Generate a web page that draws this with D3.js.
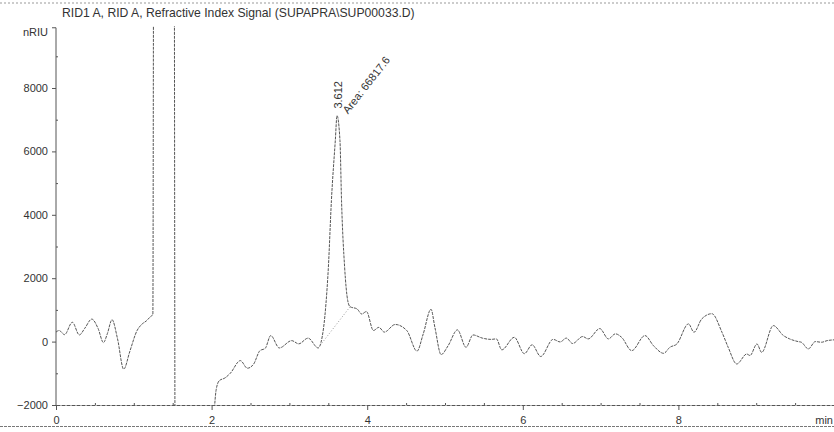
<!DOCTYPE html>
<html>
<head>
<meta charset="utf-8">
<script src="https://cdn.jsdelivr.net/npm/d3@7/dist/d3.min.js"></script>
<style>
  html, body { margin: 0; padding: 0; background: #fff; }
  svg { display: block; font-family: "Liberation Sans", Arial, sans-serif; }
  .axis text { fill: #333; font-size: 11px; font-family: "Liberation Sans", Arial, sans-serif; }
  .axis path, .axis line { stroke: #555; }
</style>
</head>
<body>
<svg id="chart" width="834" height="432"></svg>
<script>
// Refractive index detector trace (RID1 A), retention time in minutes vs nRIU
const title = "RID1 A, RID A, Refractive Index Signal (SUPAPRA\\SUP00033.D)";
const yUnit = "nRIU";
const xUnit = "min";

const xTicks = [0, 2, 4, 6, 8];
const xMinorTicks = [0.5, 1, 1.5, 2.5, 3, 3.5, 4.5, 5, 5.5, 6.5, 7, 7.5, 8.5, 9, 9.5];
const yTicks = [-2000, 0, 2000, 4000, 6000, 8000];
const yMinorTicks = [-1000, 1000, 3000, 5000, 7000, 9000];

// Signal samples; the solvent front runs off scale
// above (about 1.25-1.52 min) and below (about 1.53-2.03 min).
const times = [
  0.00, 0.04, 0.11, 0.21, 0.30, 0.37, 0.46, 0.54, 0.61, 0.66, 0.72, 0.79, 0.87, 0.95,
  1.04, 1.10, 1.16, 1.22, 1.245, 1.255, 1.52, 1.53, 2.02, 2.04, 2.06, 2.10, 2.17, 2.24,
  2.37, 2.46, 2.54, 2.62, 2.69, 2.76, 2.87, 3.03, 3.12, 3.24, 3.37, 3.44, 3.47, 3.50,
  3.54, 3.59, 3.612, 3.65, 3.67, 3.71, 3.75, 3.78, 3.87, 3.93, 3.99, 4.08, 4.15, 4.22,
  4.36, 4.51, 4.64, 4.72, 4.82, 4.87, 4.95, 5.04, 5.16, 5.27, 5.36, 5.48, 5.59, 5.66,
  5.73, 5.89, 6.02, 6.12, 6.23, 6.39, 6.48, 6.56, 6.64, 6.77, 6.84, 6.99, 7.10, 7.19,
  7.27, 7.40, 7.57, 7.68, 7.81, 7.89, 7.98, 8.13, 8.20, 8.30, 8.43, 8.56, 8.64, 8.75,
  8.88, 8.92, 9.01, 9.07, 9.22, 9.35, 9.43, 9.54, 9.58, 9.67, 9.76, 9.84, 9.91, 10.00
];
const signal = [
  300, 350, 220, 610, 210, 420, 710, 420, -30, 250, 690, 100, -870, -300,
  340, 540, 650, 800, 850, 12000, 12000, -3000, -3000, -2000, -1500, -1230, -1150, -1000,
  -600, -840, -710, -290, -210, 190, -200, 30, -70, 110, -200, 450, 1200, 2300,
  4450, 6340, 7130, 6340, 4450, 2340, 1290, 1100, 1030, 870, 950, 350, 450, 300,
  540, 345, -300, 240, 1020, 450, -410, -130, 370, -180, 210, 110, 70, 85,
  -260, 135, -380, -100, -470, 70, -10, 110, -60, 160, 85, 410, 85, 245,
  135, -285, 190, -130, -370, -180, -75, 560, 295, 715, 880, 295, -180, -705,
  -390, -440, -75, -340, 505, 190, 85, 0, -20, -230, 0, -20, 30, 55
];

// Integrated peak
const peakTime = 3.612;
const peakArea = 66817.6;
const baselineStart = [3.37, -200];
const baselineEnd = [3.78, 1100];

const svg = d3.select("#chart");
const W = 834, H = 432;
const left = 56, right = 834, bottom = 405;

const x = d3.scaleLinear().domain([0, 10]).range([left, right]);
const y = d3.scaleLinear().domain([-2000, 8000]).range([bottom, 88]);
const yTop = 9900;

// page frame lines
svg.append("line").attr("x1", 0).attr("x2", W).attr("y1", 3).attr("y2", 3)
  .attr("stroke", "#999").attr("stroke-dasharray", "2,2");
svg.append("line").attr("x1", 0).attr("x2", W).attr("y1", 426.5).attr("y2", 426.5)
  .attr("stroke", "#777").attr("stroke-dasharray", "3,1");

// title
svg.append("text").attr("x", 62).attr("y", 16.5)
  .attr("font-size", "12.2px").attr("fill", "#333").text(title);

// y axis
const yAxisG = svg.append("g").attr("class", "axis")
  .attr("transform", `translate(${left},0)`)
  .call(d3.axisLeft(y).tickValues(yTicks).tickSize(4).tickPadding(4).tickSizeOuter(0)
    .tickFormat(d3.format("d")));
yAxisG.select(".domain").remove();
svg.append("path")
  .attr("d", `M${left - 4},${y(yTop)}H${left}V${bottom}`)
  .attr("fill", "none").attr("stroke", "#555");
svg.append("g").attr("class", "axis")
  .attr("transform", `translate(${left},0)`)
  .call(d3.axisRight(y).tickValues(yMinorTicks).tickSize(2).tickFormat(""))
  .select(".domain").remove();
svg.append("text").attr("x", 48).attr("y", y(yTop) + 8)
  .attr("text-anchor", "end").attr("font-size", "11px").attr("fill", "#333").text(yUnit);

// x axis
const xAxisG = svg.append("g").attr("class", "axis")
  .attr("transform", `translate(0,${bottom})`)
  .call(d3.axisBottom(x).tickValues(xTicks).tickSize(5).tickPadding(6).tickSizeOuter(0));
xAxisG.select(".domain").attr("stroke-dasharray", "4,1");
svg.append("g").attr("class", "axis")
  .attr("transform", `translate(0,${bottom})`)
  .call(d3.axisTop(x).tickValues(xMinorTicks).tickSize(2).tickFormat(""))
  .select(".domain").remove();
svg.append("text").attr("x", 833).attr("y", 424)
  .attr("text-anchor", "end").attr("font-size", "11px").attr("fill", "#333").text(xUnit);

// trace, clipped to the plotting window
svg.append("clipPath").attr("id", "plotClip")
  .append("rect").attr("x", left).attr("y", 26).attr("width", right - left).attr("height", bottom - 26 + 0.5);

const pts = times.map((t, i) => [t, signal[i]]);
const line = d3.line().x(d => x(d[0])).y(d => y(d[1])).curve(d3.curveMonotoneX);

svg.append("path").datum(pts)
  .attr("clip-path", "url(#plotClip)")
  .attr("d", line)
  .attr("fill", "none").attr("stroke", "#555").attr("stroke-width", 1)
  .attr("stroke-dasharray", "3,1");

// integration baseline
svg.append("line")
  .attr("x1", x(baselineStart[0])).attr("y1", y(baselineStart[1]))
  .attr("x2", x(baselineEnd[0])).attr("y2", y(baselineEnd[1]))
  .attr("stroke", "#999").attr("stroke-dasharray", "1,2");

// peak annotations
const apexY = y(signal[times.indexOf(peakTime)]);
svg.append("text")
  .attr("transform", `translate(${x(peakTime) + 5},${apexY - 7}) rotate(-90)`)
  .attr("font-size", "11px").attr("fill", "#333").text(peakTime.toFixed(3));
svg.append("text")
  .attr("transform", `translate(${x(peakTime) + 11},${apexY - 1}) rotate(-52)`)
  .attr("font-size", "11px").attr("fill", "#333").text("Area: " + peakArea);
</script>
</body>
</html>
